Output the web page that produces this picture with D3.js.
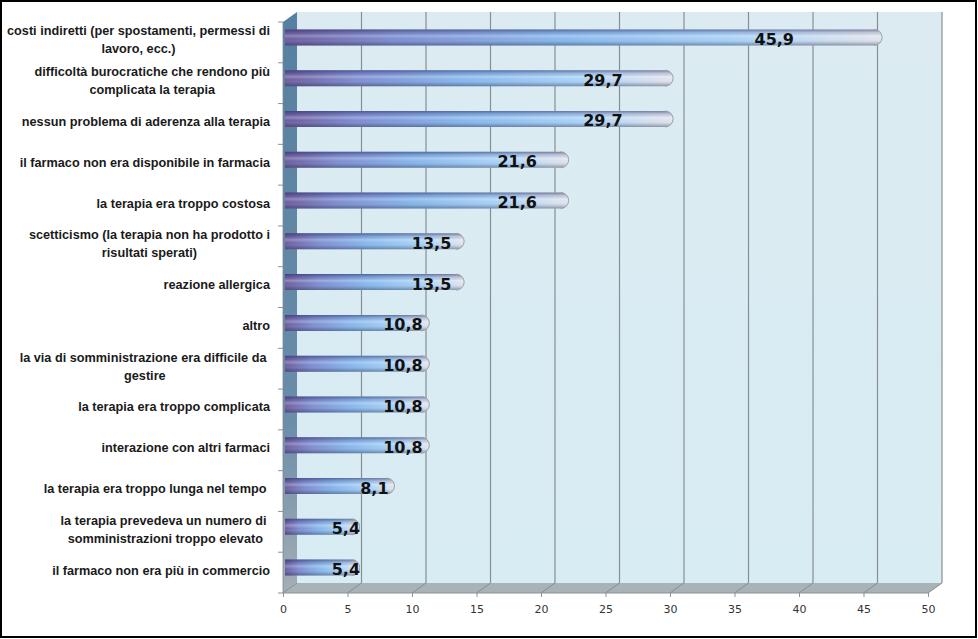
<!DOCTYPE html>
<html><head><meta charset="utf-8">
<script src="https://cdn.jsdelivr.net/npm/d3@7"></script>
<style>
html,body{margin:0;padding:0;background:#fff;}
svg{display:block;}
</style></head>
<body>
<script>
const categories = [
  "costi indiretti (per spostamenti, permessi di\nlavoro, ecc.)",
  "difficoltà burocratiche che rendono più\ncomplicata la terapia",
  "nessun problema di aderenza alla terapia",
  "il farmaco non era disponibile in farmacia",
  "la terapia era troppo costosa",
  "scetticismo (la terapia non ha prodotto i\nrisultati sperati)",
  "reazione allergica",
  "altro",
  "la via di somministrazione era difficile da \ngestire",
  "la terapia era troppo complicata",
  "interazione con altri farmaci",
  "la terapia era troppo lunga nel tempo ",
  "la terapia prevedeva un numero di \nsomministrazioni troppo elevato",
  "il farmaco non era più in commercio"
];
const values = [45.9, 29.7, 29.7, 21.6, 21.6, 13.5, 13.5, 10.8, 10.8, 10.8, 10.8, 8.1, 5.4, 5.4];
const tickValues = [0, 5, 10, 15, 20, 25, 30, 35, 40, 45, 50];
const valueLabels = ["45,9","29,7","29,7","21,6","21,6","13,5","13,5","10,8","10,8","10,8","10,8","8,1","5,4","5,4"];

const W = 978, H = 639;
const DX = 14, DY = -10;
const svg = d3.select("body").append("svg").attr("width", W).attr("height", H);
const defs = svg.append("defs");

const x = d3.scaleLinear().domain([0, 50]).range([283, 928]);
const y = d3.scaleBand().domain(d3.range(categories.length)).range([22, 593]);

// gradients
const gWall = defs.append("linearGradient").attr("id","leftwall").attr("x1",0).attr("y1",0).attr("x2",0).attr("y2",1);
gWall.append("stop").attr("offset","0%").attr("stop-color","#55809f");
gWall.append("stop").attr("offset","70%").attr("stop-color","#6a8da9");
gWall.append("stop").attr("offset","100%").attr("stop-color","#a4aeb4");

const gBack = defs.append("linearGradient").attr("id","backwall").attr("x1",0).attr("y1",0).attr("x2",0).attr("y2",1);
gBack.append("stop").attr("offset","0%").attr("stop-color","#dcebf2");
gBack.append("stop").attr("offset","100%").attr("stop-color","#d8ecf3");

const gBarH = defs.append("linearGradient").attr("id","barH").attr("x1",0).attr("y1",0).attr("x2",1).attr("y2",0);
[["0%","#6d5c9e"],["18%","#7d8cd0"],["45%","#86b6ec"],["75%","#a8d2f7"],["100%","#e2e4ec"]]
  .forEach(s=>gBarH.append("stop").attr("offset",s[0]).attr("stop-color",s[1]));
const gBarV = defs.append("linearGradient").attr("id","barV").attr("x1",0).attr("y1",0).attr("x2",0).attr("y2",1);
[["0%","#2a2a60",0.55],["20%","#2a2a60",0.15],["40%","#ffffff",0.25],["60%","#ffffff",0.0],["85%","#303850",0.2],["100%","#303850",0.45]]
  .forEach(s=>gBarV.append("stop").attr("offset",s[0]).attr("stop-color",s[1]).attr("stop-opacity",s[2]));

// back wall
svg.append("rect").attr("x", x(0)+DX).attr("y", 22+DY).attr("width", x(50)-x(0)).attr("height", 593-22)
  .attr("fill","url(#backwall)");
// left wall
svg.append("polygon")
  .attr("points", [[x(0),22],[x(0)+DX,22+DY],[x(0)+DX,593+DY],[x(0),593]].map(p=>p.join(",")).join(" "))
  .attr("fill","url(#leftwall)");
// floor
svg.append("polygon")
  .attr("points", [[x(0),593],[x(50),593],[x(50)+DX,593+DY],[x(0)+DX,593+DY]].map(p=>p.join(",")).join(" "))
  .attr("fill","#a7b3b7");

// gridlines
const grid = svg.append("g");
tickValues.forEach(t=>{
  if (t>0) grid.append("line").attr("x1",x(t)+DX).attr("x2",x(t)+DX).attr("y1",22+DY).attr("y2",593+DY)
    .attr("stroke","#868f93").attr("stroke-width",1.2);
  grid.append("line").attr("x1",x(t)).attr("y1",593).attr("x2",x(t)+DX).attr("y2",593+DY)
    .attr("stroke","#868f93").attr("stroke-width",1);
});
// floor edges
svg.append("line").attr("x1",x(0)).attr("x2",x(50)).attr("y1",593).attr("y2",593).attr("stroke","#8a9397");
svg.append("line").attr("x1",x(0)).attr("x2",x(0)).attr("y1",22).attr("y2",593).attr("stroke","#7f8a90").attr("stroke-width",0.8);

// x axis
const xAxis = d3.axisBottom(x).tickValues(tickValues).tickSize(4).tickPadding(8).tickFormat(d=>d);
const gx = svg.append("g").attr("transform","translate(0,593)").call(xAxis);
gx.select(".domain").remove();
gx.selectAll(".tick line").attr("stroke","#8a9397");
gx.selectAll("text").attr("font-family","'DejaVu Sans', sans-serif").attr("font-size",11).attr("fill","#333");

// y category ticks
const ticksY = d3.range(categories.length+1).map(i=>22 + i*y.step());
svg.append("g").selectAll("line").data(ticksY).join("line")
  .attr("x1",x(0)-5).attr("x2",x(0)).attr("y1",d=>d).attr("y2",d=>d)
  .attr("stroke","#8a9397");

// bars
const R = 8;
const bars = svg.append("g");
values.forEach((v,i)=>{
  const cy = y(i) + y.bandwidth()/2 + DY/2;
  const x0 = x(0) + 2, x1 = x(v) + DX/2;
  const path = `M${x0},${cy-R} L${x1-R},${cy-R} A${R},${R} 0 0 1 ${x1-R},${cy+R} L${x0},${cy+R} Z`;
  bars.append("path").attr("d",path).attr("fill","url(#barH)");
  bars.append("path").attr("d",path).attr("fill","url(#barV)");
  bars.append("path").attr("d",`M${x1-R},${cy-R} A${R},${R} 0 0 1 ${x1-R},${cy+R}`)
    .attr("fill","none").attr("stroke","#9aa0ac").attr("stroke-width",1);
});

// value labels
const vl = svg.append("g");
values.forEach((v,i)=>{
  const cy = y(i) + y.bandwidth()/2 + DY/2;
  const end = x(v) + DX/2;
  vl.append("text").attr("x", x(0) + 0.82*(end - x(0))).attr("y", cy + 2)
    .attr("text-anchor","middle").attr("dominant-baseline","central")
    .attr("font-family","'DejaVu Sans', sans-serif").attr("font-weight","bold").attr("font-size",16)
    .attr("fill","#111").text(valueLabels[i]);
});

// category labels
const cl = svg.append("g").attr("font-family","'Liberation Sans', Arial, sans-serif").attr("font-size",12.7).attr("font-weight","bold").attr("fill","#1a1a1a");
categories.forEach((c,i)=>{
  const lines = c.split("\n");
  const cy = y(i) + y.bandwidth()/2 - 2;
  const lh = 18;
  const t = cl.append("text").attr("text-anchor","middle").style("white-space","pre");
  const spans = lines.map((ln,k)=> t.append("tspan").attr("y", cy + (k - (lines.length-1)/2)*lh).attr("dominant-baseline","central").text(ln));
  const maxW = d3.max(spans, s=>s.node().getComputedTextLength());
  spans.forEach(s=>s.attr("x", 270 - maxW/2));
});

// outer border
svg.append("rect").attr("x",1).attr("y",1).attr("width",W-3).attr("height",H-3)
  .attr("fill","none").attr("stroke","#000").attr("stroke-width",2);
</script>
</body></html>
